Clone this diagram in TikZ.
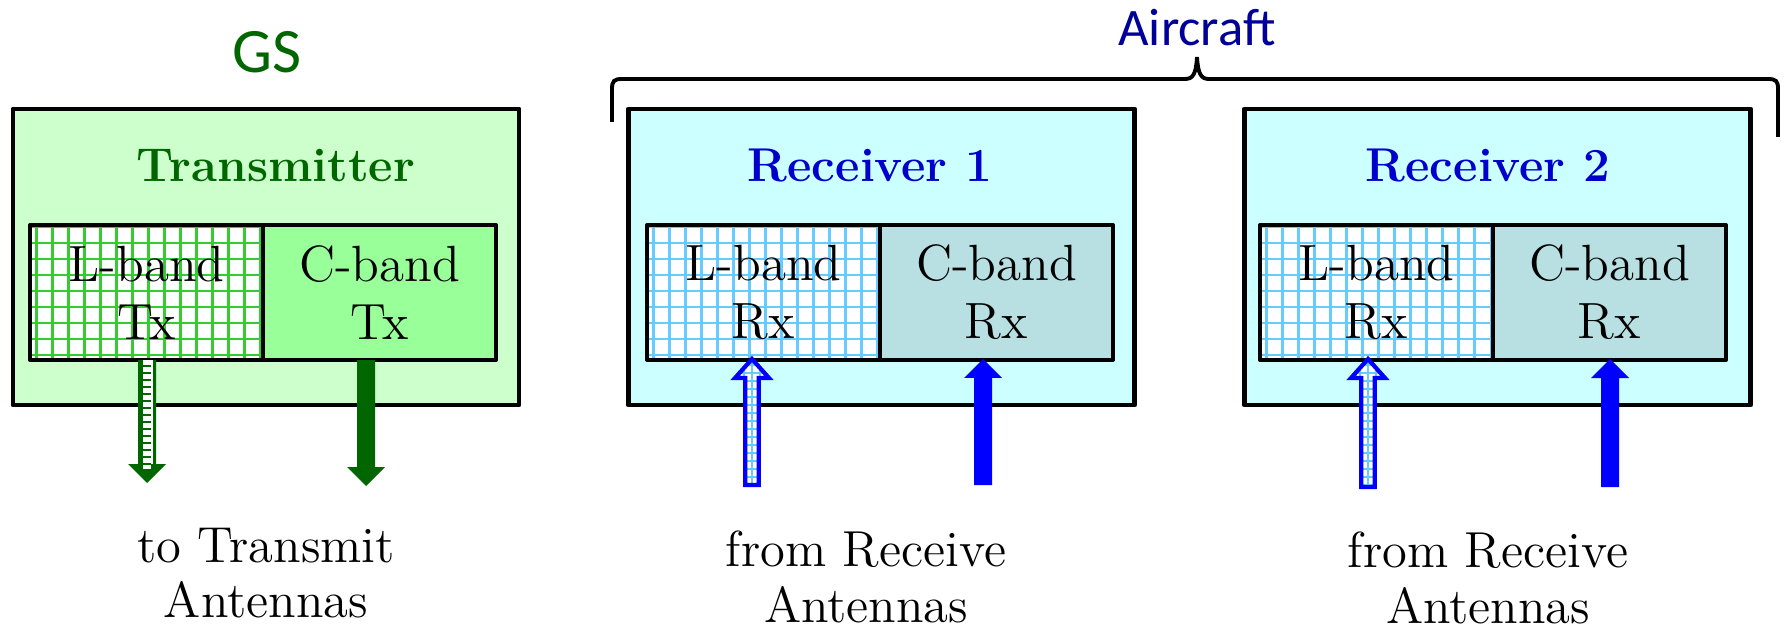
\documentclass[tikz,border=0pt]{standalone}
\usepackage{fontspec}
\usepackage{tikz}
\usetikzlibrary{positioning}
\newfontfamily\sidefont{Carlito}

\definecolor{gsfill}{HTML}{CCFFCC}
\definecolor{txcfill}{HTML}{99FF99}
\definecolor{dkgreen}{HTML}{006600}
\definecolor{gridgreen}{HTML}{33CC33}
\definecolor{acfill}{HTML}{CCFFFF}
\definecolor{rxcfill}{HTML}{B8DFE1}
\definecolor{gridblue}{HTML}{66CCFF}
\definecolor{rxblue}{HTML}{0000CC}
\definecolor{acblue}{HTML}{000099}
\definecolor{arrblue}{HTML}{0000FF}

% #1 style, #2 start, #3 shaft length, #4 shaft half width, #5 head half width
\newcommand{\arrdown}[5]{\draw[#1] (#2) ++(-#4,0) -- ++(0,-#3) -- ++({#4-#5},0) -- ++(#5,-0.19) -- ++(#5,0.19) -- ++({#4-#5},0) -- ++(0,#3) -- cycle;}
\newcommand{\arrup}[5]{\draw[#1] (#2) ++(-#4,0) -- ++(0,#3) -- ++({#4-#5},0) -- ++(#5,0.19) -- ++(#5,-0.19) -- ++({#4-#5},0) -- ++(0,-#3) -- cycle;}

\begin{document}
\begin{tikzpicture}[outer/.style={draw=black, line width=1.4pt, line join=round, minimum width=5.06cm,
                      minimum height=2.96cm, inner sep=0pt, outer sep=0pt},
                    band/.style={draw=black, line width=1.15pt, line join=round, minimum width=2.33cm,
                      minimum height=1.35cm, inner sep=0pt, outer sep=0pt, align=center,
                      font=\fontsize{14.5}{16.5}\selectfont},
                    meshfill/.style 2 args={path picture={\draw[#1, line width=0.6pt, step=#2]
                      (path picture bounding box.south west) grid (path picture bounding box.north east);}},
                    title/.style={anchor=base, font=\fontsize{13.5}{16}\selectfont\bfseries},
                    side/.style={anchor=base, font=\sidefont\fontsize{18}{20}\selectfont},
                    note/.style={align=center, inner sep=0pt, font=\fontsize{14.4}{15.8}\selectfont},
                    hollow/.style={draw=arrblue, line width=1.2pt, line join=miter, fill=white,
                      meshfill={gridblue}{0.08}}]
\useasboundingbox (0,0) rectangle (17.87,6.29);

\node[outer, fill=gsfill] (gs) at (2.66,3.72) {};
\node[outer, fill=acfill] (rx1) at (8.815,3.72) {};
\node[outer, fill=acfill] (rx2) at (14.975,3.72) {};

\node[band, fill=white, meshfill={gridgreen}{0.16}] (txl) at (1.465,3.365) {L-band\\Tx};
\node[band, fill=txcfill] (txc) [right=0pt of txl] {C-band\\Tx};
\node[band, fill=white, meshfill={gridblue}{0.16}] (r1l) at (7.635,3.365) {L-band\\Rx};
\node[band, fill=rxcfill] (r1c) [right=0pt of r1l] {C-band\\Rx};
\node[band, fill=white, meshfill={gridblue}{0.16}] (r2l) at (13.765,3.365) {L-band\\Rx};
\node[band, fill=rxcfill] (r2c) [right=0pt of r2l] {C-band\\Rx};

\node[title, text=dkgreen] (txtitle) at (2.76,4.47) {Transmitter};
\node[title, text=rxblue] (r1title) at (8.70,4.47) {Receiver 1};
\node[title, text=rxblue] (r2title) at (14.88,4.47) {Receiver 2};

\node[side, text=dkgreen] (gslabel) at (2.67,5.56) {GS};
\node[side, text=acblue, font=\sidefont\fontsize{15}{18}\selectfont] (aclabel) at (11.97,5.83) {Aircraft};

\draw[line width=1.1pt] (6.12,5.07) -- (6.12,5.40) .. controls (6.12,5.48) and (6.14,5.50) .. (6.22,5.50)
  -- (11.85,5.50) .. controls (11.93,5.50) and (11.96,5.55) .. (11.97,5.72)
  .. controls (11.98,5.55) and (12.01,5.50) .. (12.09,5.50)
  -- (17.68,5.50) .. controls (17.76,5.50) and (17.78,5.48) .. (17.78,5.40) -- (17.78,4.92);

\coordinate (txlend) at (1.47,1.46);
\coordinate (txcend) at (3.66,1.43);
\coordinate (r1lfoot) at (7.52,1.44);
\coordinate (r1cfoot) at (9.83,1.44);
\coordinate (r2lfoot) at (13.68,1.42);
\coordinate (r2cfoot) at (16.10,1.42);

\arrdown{fill=dkgreen, draw=none}{txl.south -| txlend}{1.04}{0.09}{0.19}
\draw[white, line width=2.3pt, dash pattern=on 1.4pt off 0.6pt] (txl.south -| txlend) -- ([yshift=0.14cm]txlend);
\draw[white, line width=0.3pt] ([xshift=0.05cm]txl.south -| txlend) -- ([xshift=0.05cm, yshift=0.19cm]txlend);
\arrdown{fill=dkgreen, draw=none}{txc.south -| txcend}{1.07}{0.09}{0.19}

\arrup{hollow}{r1lfoot}{1.07}{0.067}{0.17}
\arrup{fill=arrblue, draw=none}{r1cfoot}{1.07}{0.09}{0.19}
\arrup{hollow}{r2lfoot}{1.09}{0.067}{0.17}
\arrup{fill=arrblue, draw=none}{r2cfoot}{1.09}{0.09}{0.19}

\node[note] (txnote) at (2.66,0.56) {to Transmit\\Antennas};
\node[note] (r1note) at (8.66,0.52) {from Receive\\Antennas};
\node[note] (r2note) at (14.88,0.51) {from Receive\\Antennas};
\end{tikzpicture}
\end{document}
